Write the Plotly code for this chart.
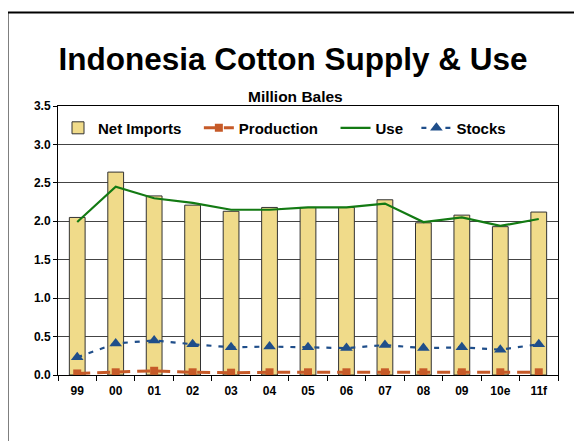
import plotly.graph_objects as go

years = ["99", "00", "01", "02", "03", "04", "05", "06", "07", "08", "09", "10e", "11f"]
net_imports = [2.05, 2.64, 2.33, 2.21, 2.13, 2.18, 2.18, 2.18, 2.28, 1.98, 2.08, 1.93, 2.12]
production = [0.02, 0.035, 0.055, 0.035, 0.03, 0.035, 0.035, 0.035, 0.035, 0.035, 0.035, 0.035, 0.035]
use = [1.99, 2.45, 2.30, 2.24, 2.15, 2.15, 2.18, 2.18, 2.23, 1.99, 2.05, 1.94, 2.03]
stocks = [0.23, 0.41, 0.45, 0.40, 0.36, 0.37, 0.36, 0.35, 0.39, 0.35, 0.36, 0.33, 0.40]

FONT = "Liberation Sans, Arial, sans-serif"

fig = go.Figure()
fig.add_trace(go.Bar(
    x=years, y=net_imports, name="Net Imports\u00a0\u00a0\u00a0",
    marker=dict(color="#F0DB8A", line=dict(color="#333333", width=1)),
    width=0.41,
))
fig.add_trace(go.Scatter(
    x=years, y=production, name="Production\u00a0\u00a0\u00a0", mode="lines+markers",
    line=dict(color="#C65A28", width=3, dash="13px,7px"),
    marker=dict(symbol="square", size=8, color="#C65A28"),
))
fig.add_trace(go.Scatter(
    x=years, y=use, name="Use\u00a0\u00a0", mode="lines",
    line=dict(color="#137A13", width=2.2),
))
fig.add_trace(go.Scatter(
    x=years, y=stocks, name="Stocks", mode="lines+markers",
    line=dict(color="#1F4E8A", width=2.2, dash="5px,7px"),
    marker=dict(symbol="triangle-up", size=11, color="#1F4E8A"),
))

fig.update_layout(
    width=582, height=441,
    margin=dict(l=50, r=32, t=98, b=74),
    paper_bgcolor="white", plot_bgcolor="white",
    font=dict(family=FONT, color="black", size=12, weight="bold"),
    title=dict(
        text="Indonesia Cotton Supply & Use",
        font=dict(family=FONT, size=31.5, color="black", weight="bold"),
        x=0.4897, xanchor="center", y=0.884, yanchor="middle",
    ),
    showlegend=True,
    legend=dict(
        orientation="h", x=0.0, xanchor="left", y=0.918, yanchor="middle",
        bgcolor="rgba(0,0,0,0)", font=dict(family=FONT, size=15, weight="bold"),
        itemwidth=30, traceorder="normal",
    ),
    bargap=0.59,
    annotations=[dict(
        text="Million Bales", xref="paper", yref="paper", x=0.474, y=1.0335,
        xanchor="center", yanchor="middle", showarrow=False,
        font=dict(family=FONT, size=15.5, weight="bold"),
    )],
    shapes=[dict(
        type="rect", xref="paper", yref="paper",
        x0=-0.101, x1=2.0, y0=-2.0, y1=1.3476,
        line=dict(color="black", width=2), layer="above",
    )],
)
fig.update_xaxes(
    range=[-0.5, 12.5],
    showline=True, linecolor="black", linewidth=1, mirror=True,
    ticks="outside", ticklen=5, tickcolor="black", tickson="boundaries",
    ticklabelstandoff=5,
    showgrid=False, tickfont=dict(size=12, weight="bold"),
)
fig.update_yaxes(
    range=[0, 3.5], dtick=0.5, tickformat=".1f",
    showline=True, linecolor="black", linewidth=1, mirror=True,
    ticks="outside", ticklen=4, tickcolor="black",
    showgrid=True, gridcolor="#444444", gridwidth=1,
    tickfont=dict(size=12, weight="bold"), zeroline=False,
)

fig.write_html("out.html")
